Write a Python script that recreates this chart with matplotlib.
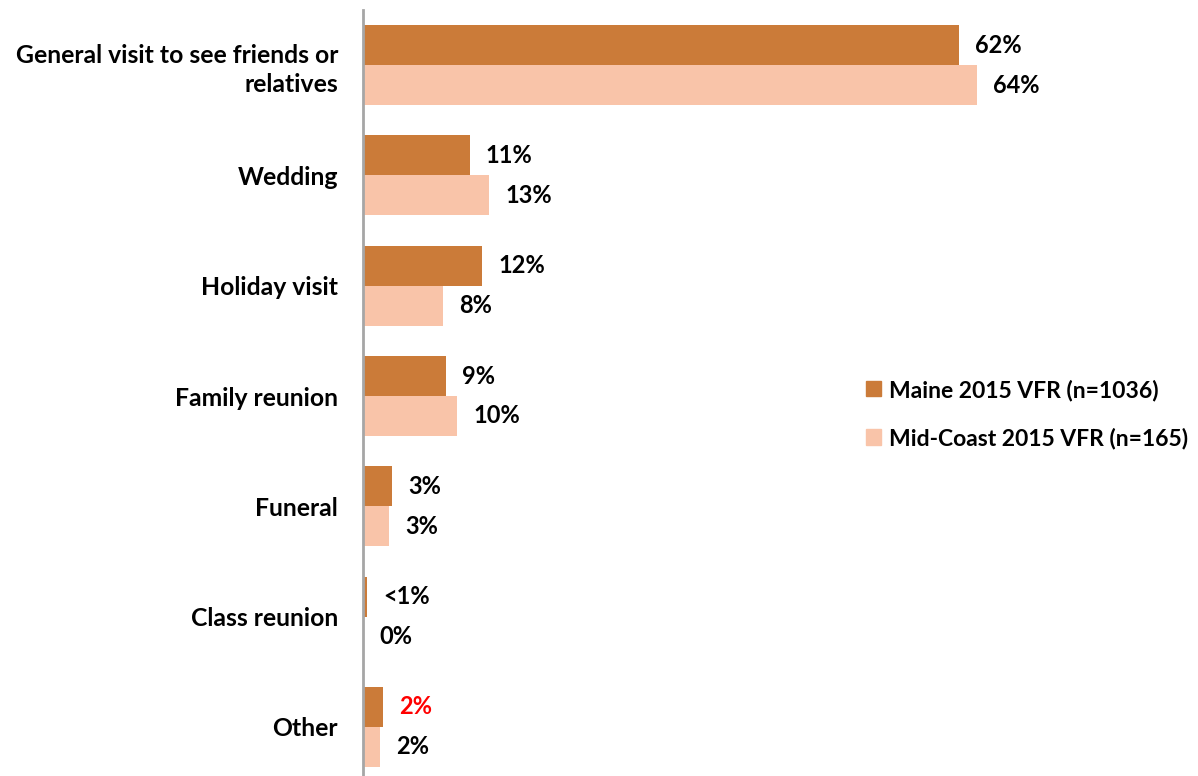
import matplotlib
matplotlib.use("Agg")
import matplotlib.pyplot as plt
import numpy as np
from matplotlib.patches import Patch

categories = ["General visit to see friends or\nrelatives", "Wedding", "Holiday visit",
              "Family reunion", "Funeral", "Class reunion", "Other"]
maine = [61.9, 11.1, 12.4, 8.6, 3.0, 0.4, 2.1]
midcoast = [63.8, 13.1, 8.3, 9.8, 2.7, 0.0, 1.8]
maine_labels = ["62%", "11%", "12%", "9%", "3%", "<1%", "2%"]
midcoast_labels = ["64%", "13%", "8%", "10%", "3%", "0%", "2%"]
series_names = ["Maine 2015 VFR (n=1036)", "Mid-Coast 2015 VFR (n=165)"]

c_dark = "#CB7B39"
c_light = "#F9C4A9"
font = "Lato"
fs_cat = 17.8
fs_val = 17
fs_leg = 16.5

W, H = 1198, 776
fig = plt.figure(figsize=(W / 100, H / 100), dpi=100)
ax_left, ax_right = 363, 1198
ax_top, ax_bot = 10, 782
ax = fig.add_axes([ax_left / W, 1 - ax_bot / H, (ax_right - ax_left) / W, (ax_bot - ax_top) / H])

n = len(categories)
y = np.arange(n)
bh = 40 / 110.3
ax.barh(y - bh / 2, maine, height=bh, color=c_dark, zorder=2)
ax.barh(y + bh / 2, midcoast, height=bh, color=c_light, zorder=2)
ax.set_ylim(n - 0.5, -0.5)
px_per_pct = 9.63
ax.set_xlim(0, (ax_right - ax_left) / px_per_pct)

off = 16 / px_per_pct
for i in range(n):
    col = "#FF0000" if categories[i] == "Other" else "black"
    ax.text(maine[i] + off, y[i] - bh / 2, maine_labels[i], va="center", ha="left",
            fontsize=fs_val, fontweight="bold", family=font, color=col)
    ax.text(midcoast[i] + off, y[i] + bh / 2, midcoast_labels[i], va="center", ha="left",
            fontsize=fs_val, fontweight="bold", family=font, color="black")

ax.set_yticks(y)
ax.set_yticklabels(categories, fontsize=fs_cat, fontweight="bold", family=font,
                   linespacing=1.3)
for t in ax.get_yticklabels():
    t.set_horizontalalignment("right")
ax.tick_params(axis="y", length=0, pad=18)
ax.set_xticks([])
for s in ["top", "right", "bottom"]:
    ax.spines[s].set_visible(False)
ax.spines["left"].set_color("#A6A6A6")
ax.spines["left"].set_linewidth(2)

handles = [Patch(color=c_dark), Patch(color=c_light)]
leg = fig.legend(handles, series_names, loc="upper left",
                 bbox_to_anchor=(857 / W, 1 - 370 / H), frameon=False,
                 prop={"family": font, "weight": "bold", "size": fs_leg},
                 handlelength=0.65, handleheight=0.65, handletextpad=0.35,
                 labelspacing=1.15, borderaxespad=0)

fig.savefig("out.png", dpi=100)
